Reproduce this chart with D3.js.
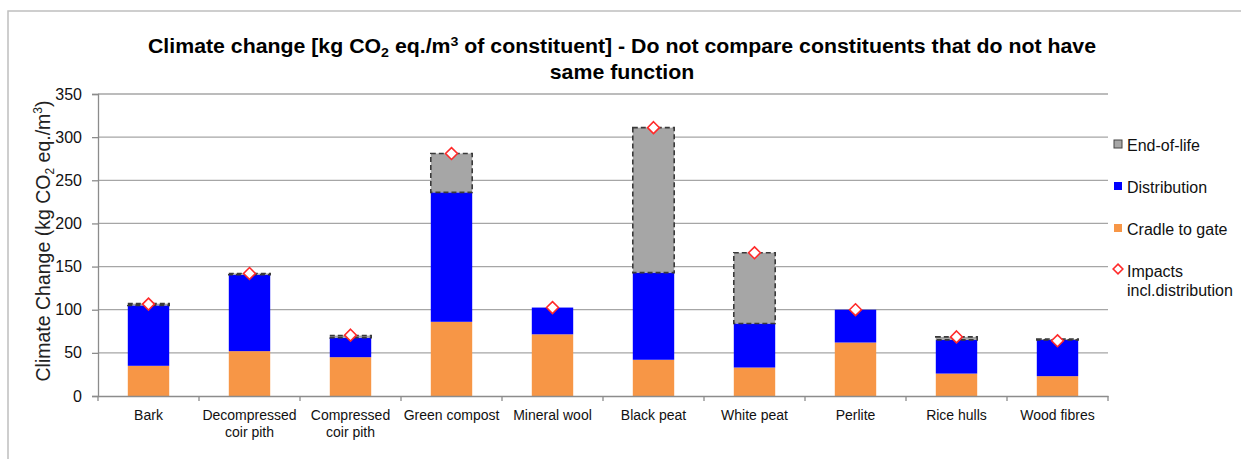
<!DOCTYPE html>
<html><head><meta charset="utf-8">
<script src="https://cdn.jsdelivr.net/npm/d3@7"></script>
<style>
body{margin:0;background:#fff;}
svg{display:block;font-family:"Liberation Sans",Arial,sans-serif;}
</style></head>
<body><svg id="c" width="1241" height="459"></svg>
<script>
const categories = ["Bark","Decompressed\ncoir pith","Compressed\ncoir pith","Green compost","Mineral wool","Black peat","White peat","Perlite","Rice hulls","Wood fibres"];
const cradleToGate = [35, 52, 45, 86, 71.5, 42, 33, 62, 26, 23];
const distribution = [70, 88.5, 22.5, 150, 31, 101, 51, 38, 39, 42];
const endOfLife = [2, 1.5, 2.5, 45, 0, 168, 82, 0, 3.5, 1];
const impactsInclDistribution = [106.5, 142, 70.5, 281, 102.5, 311, 166, 100, 68.5, 64];
const yTicks = [0, 50, 100, 150, 200, 250, 300, 350];
const seriesNames = ["Cradle to gate","Distribution","End-of-life"];

const svg = d3.select("#c");
const m = {left:98, right:1108, top:94, bottom:396};

// outer frame
svg.append("rect").attr("x",8).attr("y",11).attr("width",1300).attr("height",500)
  .attr("fill","none").attr("stroke","#bfbfbf").attr("stroke-width",1.5);

const x = d3.scaleBand().domain(categories).range([m.left,m.right]).paddingInner(0.59).paddingOuter(0.295);
const y = d3.scaleLinear().domain([0,350]).range([m.bottom,m.top]);

// gridlines
svg.append("g").selectAll("line").data(yTicks.slice(1)).join("line")
  .attr("x1",m.left).attr("x2",m.right).attr("y1",d=>y(d)).attr("y2",d=>y(d))
  .attr("stroke","#a6a6a6").attr("stroke-width",1.3);

// y axis
const yAxis = svg.append("g").attr("transform",`translate(${m.left},0)`)
  .call(d3.axisLeft(y).tickValues(yTicks).tickSize(6).tickPadding(10));
yAxis.select(".domain").attr("stroke","#8c8c8c").attr("stroke-width",1.3);
yAxis.selectAll(".tick line").attr("stroke","#8c8c8c").attr("stroke-width",1.3);
yAxis.selectAll(".tick text").attr("font-size","16px").attr("fill","#111")
  .attr("font-family","'Liberation Sans',Arial,sans-serif");

// stacked data
const rows = categories.map((c,i)=>({cat:c, "Cradle to gate":cradleToGate[i], "Distribution":distribution[i], "End-of-life":endOfLife[i]}));
const stacked = d3.stack().keys(seriesNames)(rows);
const colors = {"Cradle to gate":"#f79646","Distribution":"#0000ff","End-of-life":"#a6a6a6"};

stacked.forEach(s=>{
  const g = svg.append("g");
  g.selectAll("rect").data(s.filter(d=>d[1]-d[0]>0)).join("rect")
    .attr("x",d=>x(d.data.cat)).attr("width",x.bandwidth())
    .attr("y",d=>y(d[1])).attr("height",d=>y(d[0])-y(d[1]))
    .attr("fill",colors[s.key])
    .attr("stroke",s.key==="End-of-life"?"#3a3a3a":"none")
    .attr("stroke-width",s.key==="End-of-life"?1.6:0)
    .attr("stroke-dasharray",s.key==="End-of-life"?"5,3":null);
});

// x axis
const xAxis = svg.append("g").attr("transform",`translate(0,${m.bottom})`)
  .call(d3.axisBottom(x).tickSize(0).tickFormat(""));
xAxis.select(".domain").attr("stroke","#8c8c8c").attr("stroke-width",1.3);
const bounds = d3.range(categories.length+1).map(i=>m.left + i*(m.right-m.left)/categories.length);
svg.append("g").selectAll("line").data(bounds).join("line")
  .attr("x1",d=>d).attr("x2",d=>d).attr("y1",m.bottom).attr("y2",m.bottom+5)
  .attr("stroke","#8c8c8c").attr("stroke-width",1.3);
const xl = svg.append("g").selectAll("text").data(categories).join("text")
  .attr("x",d=>x(d)+x.bandwidth()/2).attr("y",m.bottom+24)
  .attr("text-anchor","middle").attr("font-size","14px").attr("fill","#111");
xl.each(function(d){
  const t=d3.select(this);
  d.split("\n").forEach((p,i)=>t.append("tspan").attr("x",x(d)+x.bandwidth()/2).attr("dy",i?17:0).text(p));
});

// markers
const diamond = d3.symbol().type(d3.symbolDiamond2).size(90);
svg.append("g").selectAll("path").data(impactsInclDistribution).join("path")
  .attr("transform",(d,i)=>`translate(${x(categories[i])+x.bandwidth()/2},${y(d)})`)
  .attr("d",diamond).attr("fill","#fff").attr("stroke","#ff2a2a").attr("stroke-width",1.6);

// title
function fitX(sel, cx, target){
  const w = sel.node().getComputedTextLength();
  sel.attr("transform",`translate(${cx},0) scale(${target/w},1)`);
}
const title = svg.append("text").attr("x",0).attr("y",53).attr("text-anchor","middle")
  .attr("font-size","19.5px").attr("font-weight","bold").attr("fill","#000");
title.append("tspan").text("Climate change [kg CO");
title.append("tspan").attr("font-size","13px").attr("dy",4).text("2");
title.append("tspan").attr("dy",-4).text(" eq./m");
title.append("tspan").attr("font-size","13px").attr("dy",-7).text("3");
title.append("tspan").attr("dy",7).text(" of constituent] - Do not compare constituents that do not have");
fitX(title, 622, 949);
const t2 = svg.append("text").attr("x",0).attr("y",79).attr("text-anchor","middle")
  .attr("font-size","19.5px").attr("font-weight","bold").attr("fill","#000").text("same function");
fitX(t2, 622, 949*t2.node().getComputedTextLength()/title.node().getComputedTextLength());

// y title
const yt = svg.append("text").attr("transform","translate(50,241) rotate(-90)")
  .attr("text-anchor","middle").attr("font-size","19.5px").attr("fill","#222");
yt.append("tspan").text("Climate Change (kg CO");
yt.append("tspan").attr("font-size","12px").attr("dy",4).text("2");
yt.append("tspan").attr("dy",-4).text(" eq./m");
yt.append("tspan").attr("font-size","12px").attr("dy",-8).text("3");
yt.append("tspan").attr("dy",8).text(")");

// legend
const legendItems = [
  {name:"End-of-life", y:146},
  {name:"Distribution", y:188},
  {name:"Cradle to gate", y:230},
  {name:"Impacts\nincl.distribution", y:272}
];
const lg = svg.append("g");
legendItems.forEach(it=>{
  if(it.name.startsWith("Impacts")){
    lg.append("path").attr("transform",`translate(1118,${it.y-3})`)
      .attr("d",d3.symbol().type(d3.symbolDiamond2).size(60)).attr("fill","#fff").attr("stroke","#ff2a2a").attr("stroke-width",1.6);
  } else {
    const c = colors[it.name];
    lg.append("rect").attr("x",1114).attr("y",it.y-6).attr("width",8).attr("height",8)
      .attr("fill",c).attr("stroke",it.name==="End-of-life"?"#444":"none").attr("stroke-width",1);
  }
  const t = lg.append("text").attr("x",1127).attr("y",it.y+5).attr("font-size","16px").attr("fill","#111");
  it.name.split("\n").forEach((p,i)=>t.append("tspan").attr("x",1127).attr("dy",i?19:0).text(p));
});
</script></body></html>
